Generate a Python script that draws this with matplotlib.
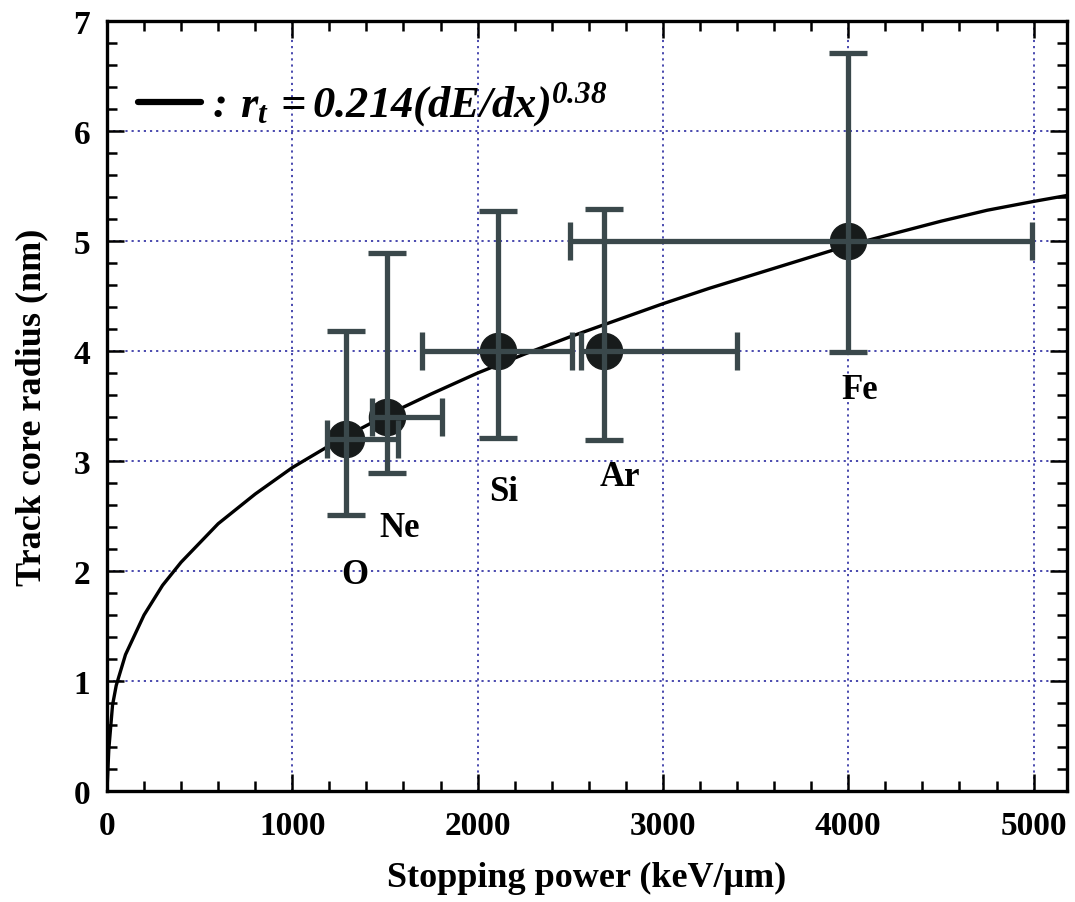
import matplotlib
matplotlib.use("Agg")
import matplotlib.pyplot as plt
from matplotlib.ticker import MultipleLocator

plt.rcParams['font.family'] = ['Liberation Serif', 'DejaVu Serif']
plt.rcParams['font.weight'] = 'bold'
plt.rcParams['mathtext.fontset'] = 'custom'
plt.rcParams['mathtext.rm'] = 'Liberation Serif:bold:italic'
plt.rcParams['mathtext.it'] = 'Liberation Serif:bold:italic'
plt.rcParams['mathtext.bf'] = 'Liberation Serif:bold:italic'

# Fit curve
curve_x = [0, 10, 30, 50, 100, 200, 300, 400, 600, 800, 1000, 1250, 1500, 1750,
           2000, 2250, 2500, 2750, 3000, 3250, 3500, 3750, 4000, 4250, 4500,
           4750, 5000, 5200]
curve_y = [0.0, 0.38, 0.78, 0.96, 1.24, 1.60, 1.87, 2.08, 2.43, 2.70, 2.94, 3.19,
           3.41, 3.61, 3.80, 3.97, 4.13, 4.28, 4.43, 4.57, 4.70, 4.83, 4.96,
           5.07, 5.18, 5.28, 5.36, 5.42]

# Ion data points
ions = ['O', 'Ne', 'Si', 'Ar', 'Fe']
ion_x = [1290, 1510, 2110, 2680, 4000]
ion_y = [3.2, 3.4, 4.0, 4.0, 5.0]
x_low = [1190, 1430, 1700, 2560, 2500]
x_high = [1570, 1810, 2510, 3400, 4990]
y_low = [2.51, 2.89, 3.21, 3.19, 3.99]
y_high = [4.18, 4.89, 5.27, 5.29, 6.71]
label_x = [1335, 1580, 2140, 2765, 4060]
label_y = [1.97, 2.40, 2.72, 2.86, 3.65]

fig = plt.figure(figsize=(10.75, 9.03), dpi=100)
ax = fig.add_axes([0.0995, 0.1229, 0.893, 0.8527])

ax.grid(True, which='major', color='#3a3aa8', linestyle=(0, (1.2, 2.2)), linewidth=1.3)
ax.set_axisbelow(True)

ax.plot(curve_x, curve_y, color='black', linewidth=2.4, zorder=3)

xerr = [[x - lo for x, lo in zip(ion_x, x_low)], [hi - x for x, hi in zip(ion_x, x_high)]]
yerr = [[y - lo for y, lo in zip(ion_y, y_low)], [hi - y for y, hi in zip(ion_y, y_high)]]
ax.plot(ion_x, ion_y, 'o', color='#171b1b', markersize=26, zorder=3.5)
ax.errorbar(ion_x, ion_y, xerr=xerr, yerr=yerr, fmt='none', ecolor='#3a484b',
            elinewidth=3.8, capsize=14, capthick=3.8, zorder=4)

for name, lx, ly in zip(ions, label_x, label_y):
    ax.text(lx, ly, name, fontsize=25, fontweight='bold', ha='center', va='center', zorder=5)

# legend-like annotation
ax.plot([0.0325, 0.098], [0.895, 0.895], transform=ax.transAxes, color='black',
        linewidth=4.5, solid_capstyle='round', zorder=5)
ax.text(0.103, 0.893, r'$:\, r_{t}\, =0.214(dE/dx)^{0.38}$', transform=ax.transAxes,
        fontsize=32, va='center', ha='left', zorder=5)

ax.set_xlim(0, 5180)
ax.set_ylim(0, 7)
ax.xaxis.set_major_locator(MultipleLocator(1000))
ax.xaxis.set_minor_locator(MultipleLocator(200))
ax.yaxis.set_major_locator(MultipleLocator(1))
ax.yaxis.set_minor_locator(MultipleLocator(0.2))
ax.tick_params(which='both', direction='in', top=True, right=True, width=1.8)
ax.tick_params(which='major', length=12, labelsize=24)
ax.tick_params(axis='x', which='major', pad=14)
ax.tick_params(axis='y', which='major', pad=12)
ax.tick_params(which='minor', length=7)
for lab in ax.get_xticklabels() + ax.get_yticklabels():
    lab.set_fontweight('bold')
for s in ax.spines.values():
    s.set_linewidth(2.4)

ax.set_xlabel('Stopping power (keV/μm)', fontsize=26, fontweight='bold', labelpad=14)
ax.set_ylabel('Track core radius (nm)', fontsize=26, fontweight='bold', labelpad=18)

fig.savefig('out.png', dpi=100)
